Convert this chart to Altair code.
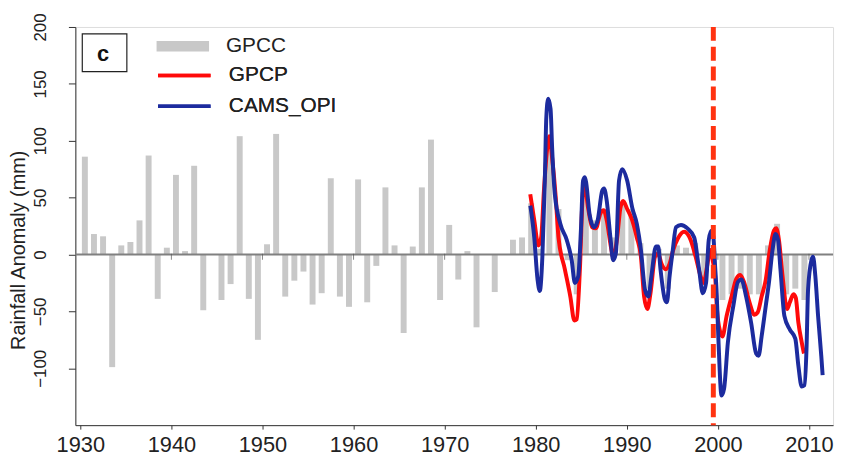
import altair as alt
import pandas as pd

# ---------------- data ----------------
gpcc_years = list(range(1930, 2010))
gpcc_values = [
    86, 18, 16, -99, 8, 11, 30, 87, -39, 6,          # 1930-1939
    70, 3, 78, -49, 0, -40, -26, 104, -39, -75,      # 1940-1949
    9, 106, -37, -23, -15, -44, -34, 67, -37, -46,   # 1950-1959
    66, -42, -10, 59, 8, -69, 7, 59, 101, -40,       # 1960-1969
    26, -22, 3, -64, 0, -33, 0, 13, 15, 45,          # 1970-1979
    5, 95, 40, -5, -35, 55, 30, 40, 15, 45,          # 1980-1989
    40, 10, -30, 5, -30, 8, 6, 10, -25, 3,           # 1990-1999
    -40, -35, -30, -35, -35, 8, 27, -35, -30, -40,   # 2000-2009
]

gpcp_time = [
    1979.4, 1979.84, 1980.3, 1980.6, 1980.9, 1981.27, 1981.5, 1981.8, 1982.2, 1982.5,
    1983.2, 1983.8, 1984.24, 1984.5, 1984.85, 1985.2, 1985.4, 1985.75, 1986.2, 1986.6,
    1987.1, 1987.46, 1987.8, 1988.25, 1988.5, 1988.9, 1989.3, 1989.6, 1990.04, 1990.6,
    1991.1, 1991.55, 1991.9, 1992.26, 1992.6, 1993.1, 1993.45, 1993.8, 1994.27, 1994.7,
    1995.1, 1995.6, 1996.3, 1997.0, 1997.56, 1998.1, 1998.45, 1998.8, 1999.17, 1999.45,
    1999.7, 1999.9, 2000.25, 2000.5, 2000.96, 2001.5, 2002.04, 2002.46, 2002.9, 2003.47,
    2004.0, 2004.36, 2004.8, 2005.26, 2005.7, 2006.15, 2006.4, 2006.7, 2007.1, 2007.6,
    2007.9, 2008.3, 2008.55, 2008.84, 2009.2, 2009.45,
]
gpcp_values = [
    53, 30, 8, 15, 56, 94, 104, 85, 50, 15,
    -13, -37, -58, -57, -13, 56, 59, 41, 24, 23,
    36, 39, 30, 7, -2, 12, 41, 47, 40, 30,
    15, -2, -37, -48, -34, -2, 1, -8, -13, -8,
    4, 14, 20, 13, -2, -19, -25, -11, 4, -6,
    -19, -48, -68, -72, -54, -37, -21, -18, -25, -42,
    -53, -51, -37, -22, 4, 21, 23, 13, -19, -48,
    -42, -35, -38, -60, -77, -87,
]

cams_time = [
    1979.41, 1979.84, 1980.2, 1980.45, 1980.73, 1981.0, 1981.16, 1981.37, 1981.63, 1981.8,
    1982.1, 1982.7, 1983.4, 1983.95, 1984.3, 1984.67, 1984.96, 1985.2, 1985.4, 1985.56,
    1985.9, 1986.4, 1986.8, 1987.3, 1987.5, 1987.8, 1988.2, 1988.5, 1988.8, 1989.15,
    1989.5, 1990.04, 1990.6, 1991.1, 1991.55, 1992.0, 1992.37, 1992.7, 1993.2, 1993.45,
    1993.7, 1994.16, 1994.4, 1994.7, 1995.05, 1995.4, 1995.95, 1996.66, 1997.4, 1997.9,
    1998.35, 1998.7, 1999.0, 1999.28, 1999.5, 1999.7, 1999.85, 2000.06, 2000.4, 2000.68,
    2001.1, 2001.7, 2002.2, 2002.57, 2003.1, 2003.65, 2004.2, 2004.47, 2004.8, 2005.26,
    2005.6, 2006.0, 2006.33, 2006.6, 2006.87, 2007.3, 2007.9, 2008.5, 2008.84, 2009.2,
    2009.5, 2009.73, 2009.9, 2010.27, 2010.45, 2010.7, 2011.0, 2011.35, 2011.5,
]
cams_values = [
    43, 15, -22, -32, -2, 65, 120, 137, 128, 94,
    53, 27, 13, -5, -25, -19, 21, 65, 68, 62,
    36, 24, 30, 56, 58, 47, 15, -5, 1, 65,
    75, 65, 41, 27, 4, -31, -37, -19, 7, 7,
    -13, -39, -42, -19, 4, 24, 26, 23, 15, -11,
    -34, -25, 13, 21, 16, -11, -31, -75, -124, -118,
    -77, -45, -24, -22, -37, -60, -87, -89, -72, -45,
    -25, 4, 18, 13, -13, -54, -66, -74, -98, -116,
    -115, -83, -31, -5, -2, -19, -54, -89, -106,
]

bar_series = ["GPCC"]
bar_colors = ["#c8c8c8"]
line_series = ["GPCP", "CAMS_OPI"]
line_colors = ["#ff0a0a", "#1c2b9e"]
x_ticks = [1930, 1940, 1950, 1960, 1970, 1980, 1990, 2000, 2010]
y_ticks = [-100, -50, 0, 50, 100, 150, 200]
break_year = [1999.5]
panel_label = ["c"]

# ---------------- tables ----------------
bars_df = pd.DataFrame({"year": gpcc_years, "value": gpcc_values, "series": "GPCC"})
lines_df = pd.concat([
    pd.DataFrame({"t": gpcp_time, "value": gpcp_values, "series": "GPCP"}),
    pd.DataFrame({"t": cams_time, "value": cams_values, "series": "CAMS_OPI"}),
], ignore_index=True)
ticks_df = pd.DataFrame({"year": x_ticks[1:]})
break_df = pd.DataFrame({"year": break_year})
label_df = pd.DataFrame({"label": panel_label})

FONT = "Liberation Sans"

xscale = alt.Scale(domain=[1930, 2012.1], nice=False, zero=False)
yscale = alt.Scale(domain=[-150, 200], nice=False)

legend_common = dict(
    orient="none", title=None, padding=0, labelFontSize=21, labelFont=FONT,
    labelFontWeight="normal", labelColor="#222", symbolOpacity=1,
)

fill_enc = alt.Fill(
    "series:N",
    scale=alt.Scale(domain=bar_series, range=bar_colors),
    legend=alt.Legend(legendX=82, legendY=-7, labelOffset=17, symbolSize=2809,
                      symbolType="M-1,-0.2H1V0.2H-1Z", symbolStrokeWidth=0,
                      **legend_common),
)
stroke_enc = alt.Stroke(
    "series:N",
    scale=alt.Scale(domain=line_series, range=line_colors),
    legend=alt.Legend(legendX=95, legendY=34, rowPadding=6, labelOffset=30,
                      symbolSize=702, symbolType="M-2,0H2", symbolStrokeWidth=3.5,
                      **legend_common),
)

x_axis = alt.Axis(values=x_ticks, format="d", title=None, grid=False,
                  labelFontSize=22, labelFont=FONT, labelColor="#222", labelPadding=6,
                  tickSize=4, tickColor="#333", domainColor="#333")
y_axis = alt.Axis(values=y_ticks, title="Rainfall Anomaly (mm)", grid=False,
                  labelAngle=270, labelAlign="center", labelBaseline="middle",
                  labelFontSize=17, labelFont=FONT, labelColor="#222", labelPadding=28,
                  tickSize=7, tickColor="#333", domainColor="#333",
                  titleFont=FONT, titleFontSize=20, titleFontWeight="normal", titleColor="#222",
                  titleAngle=270, titleX=-57, titleY=225, titleAlign="center",
                  titleBaseline="middle")

bars = alt.Chart(bars_df).transform_calculate(
    xmid="datum.year + 0.5"
).mark_bar(width=6).encode(
    x=alt.X("xmid:Q", scale=xscale, axis=x_axis),
    y=alt.Y("value:Q", scale=yscale, axis=y_axis),
    y2=alt.datum(0),
    fill=fill_enc,
)

zero_line = alt.Chart(pd.DataFrame({"v": [0]})).mark_rule(
    color="#808080", strokeWidth=2
).encode(y=alt.Y("v:Q", scale=yscale))

zero_ticks = alt.Chart(ticks_df).mark_tick(
    orient="vertical", size=6, thickness=1, color="#555"
).encode(x=alt.X("year:Q", scale=xscale), y=alt.datum(-2))

lines = alt.Chart(lines_df).mark_line(strokeWidth=4, interpolate="monotone").encode(
    x=alt.X("t:Q", scale=xscale),
    y=alt.Y("value:Q", scale=yscale),
    stroke=stroke_enc,
    order="t:Q",
)
lines_red = lines.transform_filter("datum.series === 'GPCP'")
lines_blue = lines.transform_filter("datum.series === 'CAMS_OPI'")

break_rule = alt.Chart(break_df).mark_rule(
    color="#ff3311", strokeWidth=5, strokeDash=[14, 6]
).encode(x=alt.X("year:Q", scale=xscale))

label_box = alt.Chart(label_df).mark_rect(
    fill="white", stroke="#222", strokeWidth=1.2
).encode(x=alt.value(7), x2=alt.value(52), y=alt.value(7), y2=alt.value(45))

label_text = alt.Chart(label_df).mark_text(
    font=FONT, fontSize=22, fontWeight="bold", color="#111", align="center", baseline="middle"
).encode(text="label:N", x=alt.value(28), y=alt.value(27))

chart = alt.layer(
    bars, zero_line, zero_ticks, lines_red, lines_blue, break_rule, label_box, label_text
).resolve_scale(
    fill="independent", stroke="independent"
).properties(
    width=765, height=402,
    padding={"left": 68, "top": 17, "right": 5, "bottom": 31},
    autosize=alt.AutoSizeParams(type="none"),
).configure_view(
    stroke="#999", strokeWidth=1
).configure(background="white")

chart.save("out.html", embed_options={"renderer": "svg", "actions": False})
